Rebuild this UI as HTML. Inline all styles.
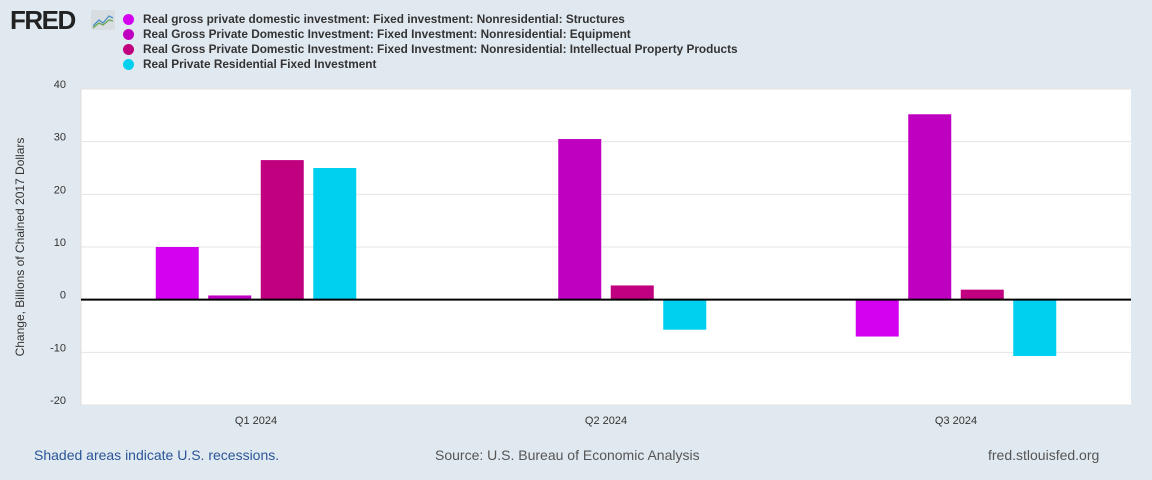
<!DOCTYPE html>
<html><head><meta charset="utf-8"><style>
body{margin:0;width:1152px;height:480px;background:#e1e9f0;font-family:"Liberation Sans",sans-serif;position:relative;overflow:hidden}
.lg{position:absolute;left:125px;font-size:11.8px;font-weight:bold;color:#333}
.dot{position:absolute;left:-2px;width:11px;height:11px;border-radius:50%}
</style></head><body>
<div style="position:absolute;left:10px;top:5px;font-size:26px;font-weight:900;color:#222;letter-spacing:-1.5px">FRED</div>
<svg style="position:absolute;left:91px;top:10px" width="24" height="20"><rect width="24" height="20" rx="2" fill="#d8dde2"/><polyline points="2,16 8,10 12,13 18,6 22,8" fill="none" stroke="#4a8fc4" stroke-width="1.3"/><polyline points="2,18 8,13 12,15 18,10 22,11" fill="none" stroke="#6aa84f" stroke-width="1.3"/></svg>
<div id="legend"></div>
<svg id="chart" width="1152" height="480" style="position:absolute;left:0;top:0"></svg>
<div style="position:absolute;left:34px;top:447px;font-size:14px;color:#2a5597">Shaded areas indicate U.S. recessions.</div>
<div style="position:absolute;left:435px;top:447px;font-size:14px;color:#555">Source: U.S. Bureau of Economic Analysis</div>
<div style="position:absolute;left:988px;top:447px;font-size:14px;color:#555">fred.stlouisfed.org</div>
<script>
const categories=["Q1 2024","Q2 2024","Q3 2024"];
const seriesNames=["Real gross private domestic investment: Fixed investment: Nonresidential: Structures","Real Gross Private Domestic Investment: Fixed Investment: Nonresidential: Equipment","Real Gross Private Domestic Investment: Fixed Investment: Nonresidential: Intellectual Property Products","Real Private Residential Fixed Investment"];
const structures=[10.0,null,-7.0];
const equipment=[0.8,30.5,35.2];
const ipp=[26.5,2.7,1.9];
const residential=[25.0,-5.7,-10.7];
const yTicks=[-20,-10,0,10,20,30,40];
const colors=["#d400f0","#c000c0","#c0007f","#00d0f0"];
const series=[structures,equipment,ipp,residential];
const NS="http://www.w3.org/2000/svg",svg=document.getElementById('chart');
const L=81,R=1131,T=89,B=405,ymin=-20,ymax=40;
const y=v=>B-(v-ymin)/(ymax-ymin)*(B-T);
const gw=(R-L)/categories.length;
const xc=i=>L+gw*(i+0.5);
function mk(t,a){const e=document.createElementNS(NS,t);for(const k in a)e.setAttribute(k,a[k]);svg.appendChild(e);return e;}
let bg=mk('rect',{x:L,y:T,width:R-L,height:B-T,fill:'#fff'});


yTicks.forEach(v=>{
 let g=mk('line',{x1:L,x2:R,y1:y(v),y2:y(v),stroke:'#e4e4e4','stroke-width':1});
 
 
 let t=mk('text',{x:66,y:y(v)-1,'text-anchor':'end','font-size':11,fill:'#333'});t.textContent=v;
 
 
});
mk('line',{x1:L,x2:L,y1:T,y2:B,stroke:'#ddd'});
const step=52.5,bw=43;
series.forEach((s,si)=>s.forEach((v,i)=>{
 if(v==null)return;
 const x=xc(i)+(si-1.5)*step-bw/2;
 let r=mk('rect',{x:x,y:Math.min(y(v),y(0)),width:bw,height:Math.abs(y(v)-y(0)),fill:colors[si]});
 
 
}));
let z=mk('line',{x1:L,x2:R,y1:y(0),y2:y(0),stroke:'#000','stroke-width':2});


categories.forEach((c,i)=>{
 let t=mk('text',{x:xc(i),y:424,'text-anchor':'middle','font-size':11,fill:'#333'});t.textContent=c;
 
 
});
let yt=mk('text',{x:0,y:0,transform:'translate(24,247) rotate(-90)','text-anchor':'middle','font-size':12,fill:'#333'});
yt.textContent='Change, Billions of Chained 2017 Dollars';


const lg=document.getElementById('legend');
seriesNames.forEach((n,i)=>{
 const d=document.createElement('div');d.className='lg';d.style.top=(12+i*15)+'px';
 d.innerHTML='<span class="dot" style="background:'+colors[i]+';top:2px"></span><span style="margin-left:18px">'+n+'</span>';
 
 
 lg.appendChild(d);
});
</script>
</body></html>
